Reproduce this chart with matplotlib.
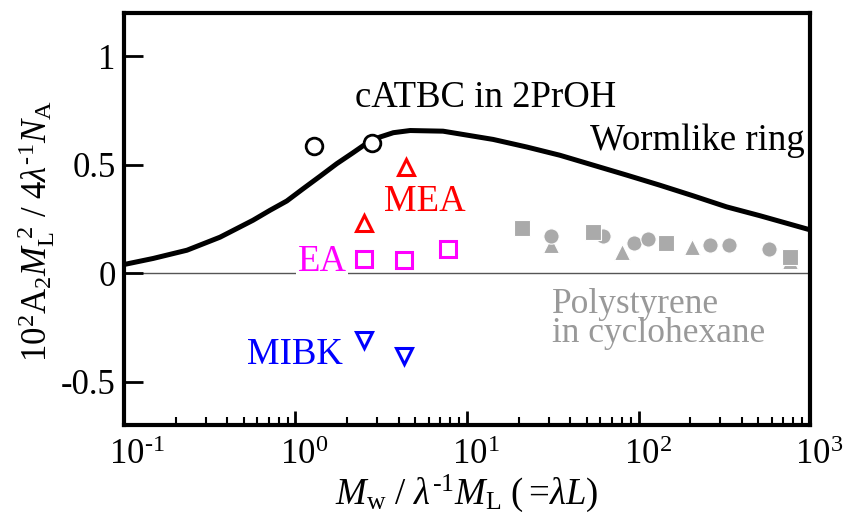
import matplotlib
matplotlib.use("Agg")
import matplotlib.pyplot as plt
from matplotlib.ticker import FixedLocator, LogLocator, NullFormatter
from matplotlib.transforms import ScaledTranslation

plt.rcParams['font.family'] = ['Liberation Serif', 'DejaVu Serif']
plt.rcParams['mathtext.fontset'] = 'custom'
plt.rcParams['mathtext.rm'] = 'Liberation Serif'
plt.rcParams['mathtext.it'] = 'Liberation Serif:italic'

# wormlike ring theory curve
ring_x = [0.1, 0.148, 0.233, 0.363, 0.565, 0.71, 0.89, 1.11, 1.39, 1.74, 2.16, 2.61,
          3.11, 3.72, 4.66, 7.25, 14.2, 22.3, 34.8, 54.6, 85.7, 133, 208, 326, 511, 1000]
ring_y = [0.04, 0.068, 0.106, 0.166, 0.244, 0.29, 0.333, 0.39, 0.447, 0.505, 0.555, 0.60,
          0.628, 0.648, 0.658, 0.655, 0.617, 0.582, 0.544, 0.498, 0.452, 0.406, 0.357, 0.306, 0.265, 0.20]

# cATBC data
pro_x = [1.28, 2.79]
pro_y = [0.585, 0.60]
mea_x = [2.5, 4.4]
mea_y = [0.23, 0.49]
ea_x = [2.5, 4.3, 7.8]
ea_y = [0.065, 0.063, 0.11]
mibk_x = [2.5, 4.3]
mibk_y = [-0.31, -0.38]

# polystyrene in cyclohexane
ps_sq_x = [20.9, 54.3, 144, 764]
ps_sq_y = [0.21, 0.19, 0.14, 0.075]
ps_ci_x = [30.9, 62, 94, 113, 261, 337, 577]
ps_ci_y = [0.17, 0.17, 0.14, 0.16, 0.13, 0.13, 0.11]
ps_tr_x = [30.9, 80, 205, 764]
ps_tr_y = [0.13, 0.10, 0.12, 0.055]

HY = '\u2010'  # the original uses a short hyphen in exponents
yticks = [-0.5, 0, 0.5, 1]
ytick_labels = ['-0.5', '0', '0.5', '1']
xticks = [0.1, 1, 10, 100, 1000]
xtick_labels = ['$10^{%s1}$' % HY, r'$10^{0}$', r'$10^{1}$', r'$10^{2}$', r'$10^{3}$']

fig = plt.figure(figsize=(8.45, 5.16), dpi=100)
ax = fig.add_axes([0.1467, 0.1764, 0.8119, 0.7984])

gray = '#aaaaaa'
ax.axhline(0, color='#555555', lw=1, zorder=1)
ax.plot(ring_x, ring_y, color='black', lw=3.6, zorder=3, solid_joinstyle='round')

mk = dict(ls='none', mec='white', mew=0.8, color=gray, ms=11, zorder=2)
ax.plot(ps_tr_x, ps_tr_y, marker='^', **mk)
ax.plot(ps_ci_x, ps_ci_y, marker='o', **mk)
ax.plot(ps_sq_x, ps_sq_y, marker='s', **mk)

ax.plot(pro_x, pro_y, ls='none', marker='o', ms=12, mfc='white', mec='black', mew=2, zorder=4)
ax.plot(mea_x, mea_y, ls='none', marker='^', ms=11, mfc='none', mec='red', mew=2.2, zorder=4)
ax.plot(ea_x, ea_y, ls='none', marker='s', ms=11, mfc='none', mec='magenta', mew=2.2, zorder=4)
ax.plot(mibk_x, mibk_y, ls='none', marker='v', ms=11, mfc='none', mec='blue', mew=2.2, zorder=4)

fs = 26.5
ax.text(2.22, 0.765, 'cATBC in 2PrOH', fontsize=fs, color='black')
ax.text(52, 0.567, 'Wormlike ring', fontsize=fs, color='black')
ax.text(3.28, 0.286, 'MEA', fontsize=fs, color='red')
ax.text(1.03, 0.009, 'EA', fontsize=fs, color='magenta', zorder=2,
        bbox=dict(fc='white', ec='none', pad=1))
ax.text(0.52, -0.42, 'MIBK', fontsize=fs, color='blue')
ax.text(31.5, -0.318, 'Polystyrene\nin cyclohexane', fontsize=25.5, color='#999999',
        linespacing=0.85, ha='left', va='baseline')

ax.set_xscale('log')
ax.set_xlim(0.1, 1000)
ax.set_ylim(-0.7, 1.2)

ax.xaxis.set_major_locator(FixedLocator(xticks))
ax.set_xticklabels(xtick_labels)
ax.xaxis.set_minor_locator(LogLocator(base=10, subs=range(2, 10)))
ax.xaxis.set_minor_formatter(NullFormatter())
ax.set_yticks(yticks)
ax.set_yticklabels(ytick_labels)

ax.tick_params(axis='both', which='major', direction='in', labelsize=25, width=2)
ax.tick_params(axis='x', which='major', length=10, pad=10)
ax.tick_params(axis='y', which='major', length=14, pad=6)
ax.tick_params(axis='x', which='minor', direction='in', length=6, width=1.5)
for s in ax.spines.values():
    s.set_linewidth(3)

# keep the "10" of each decade label centred on its tick
shift = ScaledTranslation(-0.15, 0, fig.dpi_scale_trans)
for lab in ax.get_xticklabels():
    lab.set_horizontalalignment('left')
    lab.set_transform(lab.get_transform() + shift)

ax.set_xlabel(r'$M_\mathrm{w}\ /\ \lambda^{%s1}M_\mathrm{L}\ (=\!\lambda L)$' % HY, fontsize=fs)
ax.xaxis.set_label_coords(0.5, -0.115)
ax.set_ylabel(r'$10^2\mathrm{A}_2M_\mathrm{L}^{\ 2}\ /\ 4\lambda^{%s1}N_\mathrm{A}$' % HY, fontsize=25)
ax.yaxis.set_label_coords(-0.097, 0.47)

fig.savefig('out.png', dpi=100)
